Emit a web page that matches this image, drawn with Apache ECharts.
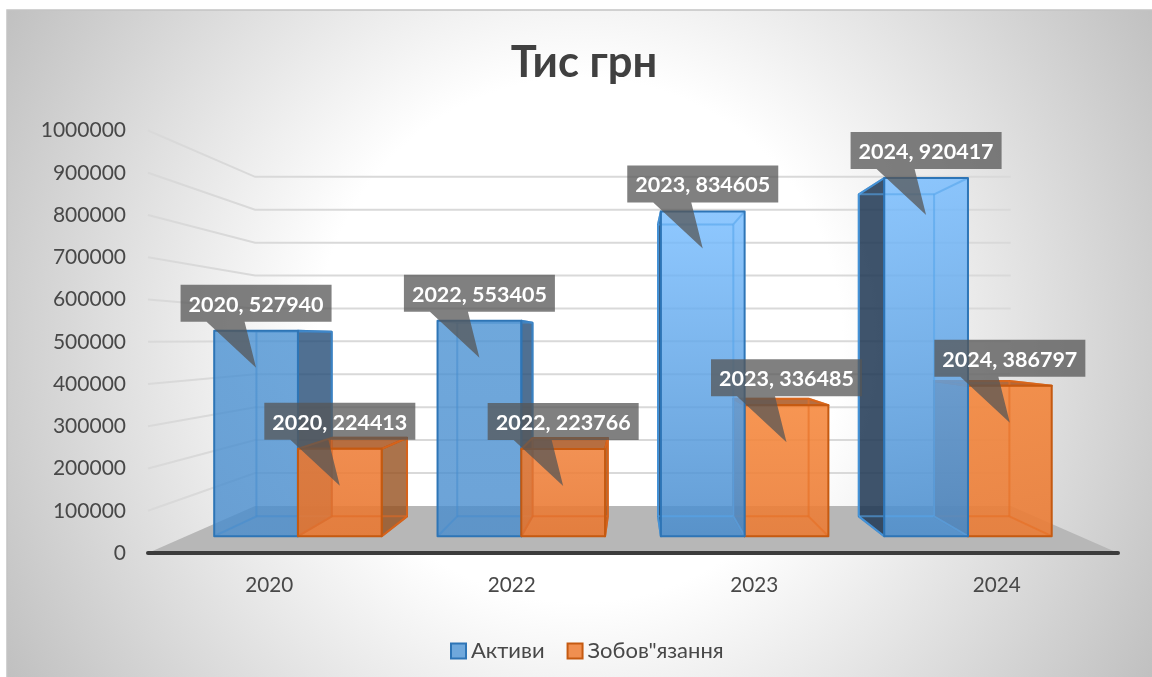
<!DOCTYPE html>
<html><head><meta charset="utf-8">
<style>html,body{margin:0;padding:0;background:#fff}#c{width:1152px;height:677px}</style>
<script src="https://cdn.jsdelivr.net/npm/echarts@6/dist/echarts.min.js"></script>
</head><body><div id="c"></div>
<script>
const chartTitle = 'Тис грн';
const categories = ['2020', '2022', '2023', '2024'];
const assets = [527940, 553405, 834605, 920417];
const liabilities = [224413, 223766, 336485, 386797];
const gridValues = [100000, 200000, 300000, 400000, 500000, 600000, 700000, 800000, 900000, 1000000];
const FONT = 'Lato, "Noto Sans", sans-serif';
const VP = [632.5, 340], SF = 0.921, SB = 0.828, SW = 0.779;
const proj = (p, s) => [VP[0] + s * (p[0] - VP[0]), VP[1] + s * (p[1] - VP[1])];
const LG = (a, b) => new echarts.graphic.LinearGradient(0, 0, 0, 1, [{offset: 0, color: a}, {offset: 1, color: b}]);
const SKIN = {
  blue: {
    edge: '#2e75b6', inner: ['rgba(70,140,205,.55)', 'rgba(70,140,205,.55)', 'rgba(85,165,235,.6)', 'rgba(85,165,235,.6)'],
    front: [['rgba(75,146,211,.8)', 'rgba(72,140,205,.8)'], ['rgba(75,146,211,.8)', 'rgba(72,140,205,.8)'],
            ['rgba(118,188,255,.82)', 'rgba(72,140,205,.85)'], ['rgba(118,188,255,.82)', 'rgba(72,140,205,.85)']],
    side: ['rgba(42,80,122,.82)', 'rgba(42,80,122,.82)', 'rgba(32,56,84,.86)', 'rgba(32,56,84,.86)'],
    top: 'rgba(60,120,180,.85)'
  },
  orange: {
    edge: '#c55a11', inner: ['rgba(225,105,35,.6)', 'rgba(225,105,35,.6)', 'rgba(230,110,35,.6)', 'rgba(230,110,35,.6)'],
    front: [['rgba(238,125,55,.88)', 'rgba(232,120,50,.9)'], ['rgba(240,130,60,.88)', 'rgba(232,120,50,.9)'],
            ['rgba(246,138,64,.9)', 'rgba(234,124,54,.9)'], ['rgba(243,134,60,.9)', 'rgba(234,124,54,.9)']],
    side: ['rgba(150,80,30,.8)', 'rgba(150,80,30,.8)', 'rgba(150,70,20,.65)', 'rgba(150,70,20,.65)'],
    top: 'rgba(170,85,30,.85)'
  }
};
const poly = (points, fill, stroke, lw, z2) => ({
  type: 'polygon', shape: {points}, z2,
  style: {fill: fill || 'none', stroke: stroke || 'none', lineWidth: lw || 0, lineJoin: 'round'}
});
const seg = (a, b, stroke, lw, z2) => ({
  type: 'line', shape: {x1: a[0], y1: a[1], x2: b[0], y2: b[1]}, z2, style: {stroke, lineWidth: lw}
});
function barRenderer(values, skin, isLeft) {
  return function (params, api) {
    const i = api.value(0), v = api.value(1);
    const base = api.coord([i, 0]), topPt = api.coord([i, v]);
    const hw = api.size([1, 0])[0] * 0.375;
    const XC = base[0];
    const x0 = isLeft ? XC - hw : XC, x1 = isLeft ? XC : XC + hw;
    const Y0 = base[1], Y1 = topPt[1];
    const fbl = proj([x0, Y0], SF), fbr = proj([x1, Y0], SF), ftl = proj([x0, Y1], SF), ftr = proj([x1, Y1], SF);
    const bbl = proj([x0, Y0], SB), bbr = proj([x1, Y0], SB), btl = proj([x0, Y1], SB), btr = proj([x1, Y1], SB);
    // the pair is painted far to near: on the right of the vanishing point the orange bar goes first
    const near = isLeft ? (XC < VP[0] ? 10 : 30) : (XC < VP[0] ? 30 : 10);
    const kids = [];
    const inner = skin.inner[i], edge = skin.edge;
    if (x0 > VP[0]) kids.push(poly([fbl, ftl, btl, bbl], skin.side[i], edge, 2, near));
    if (x1 < VP[0]) kids.push(poly([fbr, ftr, btr, bbr], skin.side[i], edge, 2, near));
    if (Y1 > VP[1]) kids.push(poly([ftl, ftr, btr, btl], skin.top, edge, 2, near));
    kids.push(poly([ftl, ftr, fbr, fbl], LG(skin.front[i][0], skin.front[i][1]), null, 0, near + 1));
    kids.push(
      seg(bbl, bbr, inner, 2, near + 2), seg(btl, bbl, inner, 2, near + 2), seg(btr, bbr, inner, 2, near + 2),
      seg(btl, btr, inner, 2, near + 2), seg(fbl, bbl, inner, 2, near + 2), seg(fbr, bbr, inner, 2, near + 2),
      seg(ftl, btl, inner, 2, near + 2), seg(ftr, btr, inner, 2, near + 2)
    );
    kids.push(poly([ftl, ftr, fbr, fbl], null, edge, 2, near + 3));
    // callout label
    const cx = (ftl[0] + ftr[0]) / 2, ty = ftl[1];
    const l = cx - 75.5, r = cx + 75.5, t = ty - 46, b = ty - 9;
    kids.push(poly([[l, t], [r, t], [r, b], [l + 64, b], [cx, ty + 37], [l + 26, b], [l, b]],
      'rgba(85,85,85,.75)', null, 0, 100));
    kids.push({
      type: 'text', z2: 101,
      style: {x: cx, y: (t + b) / 2 + 1.5, text: categories[i] + ', ' + v, fill: '#fff',
        font: 'bold 21.5px ' + FONT, textAlign: 'center', textVerticalAlign: 'middle'}
    });
    return {type: 'group', children: kids};
  };
}
function wallRenderer(params, api) {
  const v = api.value(0);
  const p0 = api.coord([0, v]), a = api.coord([0, 0]), c = api.coord([3, 0]);
  const hb = api.size([1, 0])[0] / 2;
  const L = [a[0] - hb, p0[1]], R = [c[0] + hb, p0[1]];
  const bl = proj(L, SW), br = proj(R, SW);
  return {type: 'group', children: [
    {type: 'polyline', shape: {points: [L, bl, br]}, style: {stroke: '#d9d9d9', lineWidth: 2, fill: 'none'}}
  ]};
}
function floorRenderer(params, api) {
  const a = api.coord([0, 0]), c = api.coord([3, 0]);
  const hb = api.size([1, 0])[0] / 2;
  const L = [a[0] - hb, a[1]], R = [c[0] + hb, a[1]];
  return poly([L, R, proj(R, SW), proj(L, SW)], '#b7b7b7', null, 0, 0);
}
const chart = echarts.init(document.getElementById('c'), null, {renderer: 'canvas'});
chart.setOption({
  animation: false,
  backgroundColor: '#fff',
  title: {text: chartTitle, left: 579, top: 36, textAlign: 'center',
    textStyle: {fontFamily: FONT, fontWeight: 'bold', fontSize: 43.5, color: '#404040'}},
  graphic: [{
    type: 'rect', z: -5, silent: true,
    shape: {x: 7, y: 10, width: 1146, height: 668},
    style: {stroke: '#c4c4c4', lineWidth: 1.5,
      fill: new echarts.graphic.RadialGradient(580, 340, 690, [
        {offset: 0, color: '#ffffff'}, {offset: 0.38, color: '#ffffff'}, {offset: 1, color: '#bcbcbc'}], true)}
  }],
  legend: {
    left: 445, top: 635, itemWidth: 15, itemHeight: 15, itemGap: 22,
    textStyle: {fontFamily: FONT, fontSize: 22, color: '#484848'},
    data: [
      {name: 'Активи', icon: 'rect', itemStyle: {color: '#6fa8dc', borderColor: '#2e75b6', borderWidth: 2}},
      {name: 'Зобов"язання', icon: 'rect', itemStyle: {color: '#f08f50', borderColor: '#c55a11', borderWidth: 2}}
    ]
  },
  grid: {left: 148, right: 34, top: 130.5, bottom: 124},
  xAxis: {type: 'category', data: categories, z: 2,
    axisLine: {show: true, lineStyle: {color: '#3c3c3c', width: 4, cap: 'round'}},
    axisTick: {show: false}, splitLine: {show: false},
    axisLabel: {margin: 22, fontFamily: FONT, fontSize: 20.7, color: '#484848'}},
  yAxis: {type: 'value', min: 0, max: 1000000, interval: 100000,
    axisLine: {show: false}, axisTick: {show: false}, splitLine: {show: false},
    axisLabel: {margin: 22, fontFamily: FONT, fontSize: 21, color: '#484848', formatter: v => String(v)}},
  series: [
    {type: 'custom', name: 'floor', z: 1, silent: true, data: [[0]], renderItem: floorRenderer, encode: {y: 0}},
    {type: 'custom', name: 'walls', z: 1, silent: true, data: gridValues.map(v => [v]), renderItem: wallRenderer, encode: {y: 0}},
    {type: 'custom', name: 'Активи', z: 3, silent: true, coordinateSystem: 'cartesian2d',
      itemStyle: {color: '#6fa8dc', borderColor: '#2e75b6'},
      data: assets.map((v, i) => [i, v]), encode: {x: 0, y: 1},
      renderItem: barRenderer(assets, SKIN.blue, true)},
    {type: 'custom', name: 'Зобов"язання', z: 3, silent: true, coordinateSystem: 'cartesian2d',
      itemStyle: {color: '#f08f50', borderColor: '#c55a11'},
      data: liabilities.map((v, i) => [i, v]), encode: {x: 0, y: 1},
      renderItem: barRenderer(liabilities, SKIN.orange, false)}
  ]
});
</script></body></html>
